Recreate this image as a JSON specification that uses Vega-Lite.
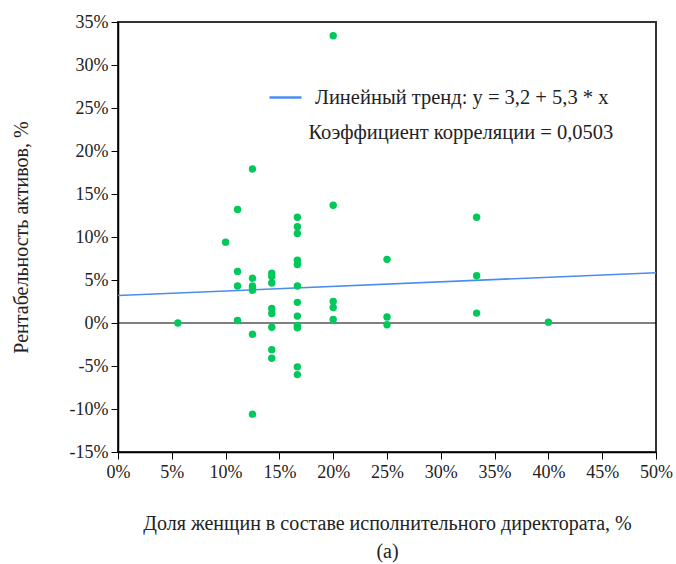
{
  "$schema": "https://vega.github.io/schema/vega-lite/v6.json",
  "autosize": {"type": "none"},
  "padding": {"left": 118, "top": 22, "right": 20, "bottom": 112},
  "width": 538,
  "height": 430,
  "background": "white",
  "config": {
    "font": "Liberation Serif, Times New Roman, serif",
    "view": {"stroke": "#333", "strokeWidth": 2},
    "axis": {"labelFont": "Liberation Serif, Times New Roman, serif", "titleFont": "Liberation Serif, Times New Roman, serif", "labelFontSize": 18, "titleFontSize": 20, "labelColor": "#222", "titleColor": "#222", "titleFontWeight": "normal", "grid": false, "domainColor": "#000", "tickColor": "#000", "tickWidth": 1, "domainWidth": 1.5}
  },
  "layer": [
    {
      "data": {"values": [{"x": 0, "y": 3.2, "s": "Линейный тренд: y = 3,2 + 5,3 * x"}, {"x": 50, "y": 5.85, "s": "Линейный тренд: y = 3,2 + 5,3 * x"}]},
      "mark": {"type": "line", "strokeWidth": 1.5},
      "encoding": {
        "x": {"field": "x", "type": "quantitative", "scale": {"domain": [0, 50], "nice": false},
          "axis": {"orient": "bottom", "values": [0,5,10,15,20,25,30,35,40,45,50], "labelExpr": "datum.value + '%'", "labelOverlap": false, "labelFlush": false, "tickSize": 7, "labelPadding": 4, "title": ["Доля женщин в составе исполнительного директората, %", "(a)"], "titlePadding": 32, "titleLineHeight": 28}},
        "y": {"field": "y", "type": "quantitative", "scale": {"domain": [-15, 35], "nice": false},
          "axis": {"orient": "left", "values": [-15,-10,-5,0,5,10,15,20,25,30,35], "labelExpr": "datum.value + '%'", "labelOverlap": false, "labelFlush": false, "tickSize": 7, "labelPadding": 3, "title": "Рентабельность активов, %", "titlePadding": 38}},
        "color": {"field": "s", "type": "nominal", "scale": {"range": ["#4a8cf0"]},
          "legend": {"title": null, "orient": "none", "legendX": 150, "legendY": 58, "symbolType": "stroke", "symbolSize": 1024, "symbolStrokeWidth": 2.5, "labelFontSize": 20.5, "labelFont": "Liberation Serif, Times New Roman, serif", "labelColor": "#222", "labelOffset": 12, "padding": 0, "labelLimit": 400}}
      }
    },
    {
      "data": {"values": [{"y": 0}]},
      "mark": {"type": "rule", "color": "#000", "strokeWidth": 1},
      "encoding": {
        "y": {"field": "y", "type": "quantitative"}
      }
    },
    {
      "data": {"values": [
        {"x": 5.56, "y": 0.0}, {"x": 10, "y": 9.4},
        {"x": 11.11, "y": 13.2}, {"x": 11.11, "y": 6.0}, {"x": 11.11, "y": 4.3}, {"x": 11.11, "y": 0.3},
        {"x": 12.5, "y": 17.9}, {"x": 12.5, "y": 5.2}, {"x": 12.5, "y": 4.3}, {"x": 12.5, "y": 4.1}, {"x": 12.5, "y": 3.8}, {"x": 12.5, "y": -1.3}, {"x": 12.5, "y": -10.6},
        {"x": 14.29, "y": 5.8}, {"x": 14.29, "y": 5.4}, {"x": 14.29, "y": 4.65}, {"x": 14.29, "y": 1.7}, {"x": 14.29, "y": 1.1}, {"x": 14.29, "y": -0.5}, {"x": 14.29, "y": -3.1}, {"x": 14.29, "y": -4.1},
        {"x": 16.67, "y": 12.3}, {"x": 16.67, "y": 11.2}, {"x": 16.67, "y": 10.4}, {"x": 16.67, "y": 7.3}, {"x": 16.67, "y": 6.8}, {"x": 16.67, "y": 4.3}, {"x": 16.67, "y": 2.4}, {"x": 16.67, "y": 0.8}, {"x": 16.67, "y": -0.3}, {"x": 16.67, "y": -0.55}, {"x": 16.67, "y": -5.1}, {"x": 16.67, "y": -6.0},
        {"x": 20, "y": 33.4}, {"x": 20, "y": 13.7}, {"x": 20, "y": 2.5}, {"x": 20, "y": 1.8}, {"x": 20, "y": 0.4},
        {"x": 25, "y": 7.4}, {"x": 25, "y": 0.7}, {"x": 25, "y": -0.2},
        {"x": 33.33, "y": 12.3}, {"x": 33.33, "y": 5.5}, {"x": 33.33, "y": 1.15},
        {"x": 40, "y": 0.1}
      ]},
      "mark": {"type": "circle", "size": 55, "color": "#00c85a", "opacity": 1},
      "encoding": {
        "x": {"field": "x", "type": "quantitative"},
        "y": {"field": "y", "type": "quantitative"}
      }
    },
    {
      "data": {"values": [{"x": 17.7, "y": 22.1, "label": "Коэффициент корреляции = 0,0503"}]},
      "mark": {"type": "text", "align": "left", "baseline": "middle", "fontSize": 20.5, "font": "Liberation Serif, Times New Roman, serif", "color": "#222"},
      "encoding": {
        "x": {"field": "x", "type": "quantitative"},
        "y": {"field": "y", "type": "quantitative"},
        "text": {"field": "label"}
      }
    }
  ]
}
